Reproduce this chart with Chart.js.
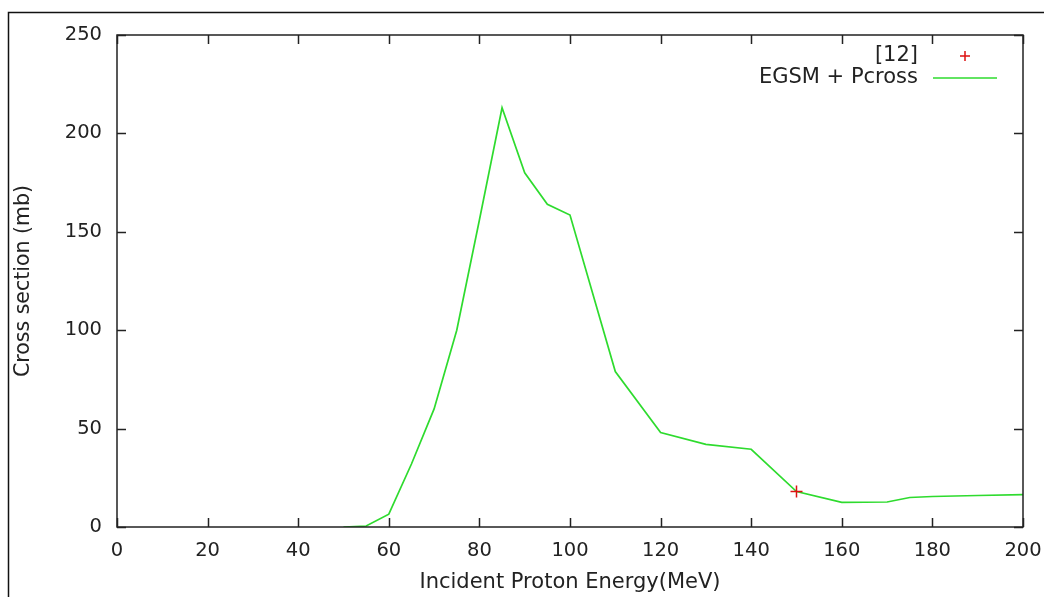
<!DOCTYPE html>
<html>
<head>
<meta charset="utf-8">
<script src="https://cdn.jsdelivr.net/npm/chart.js@4/dist/chart.umd.min.js"></script>
<style>
  html, body { margin: 0; padding: 0; background: #fff; }
  #wrap { width: 1044px; height: 597px; position: relative; }
</style>
</head>
<body>
<div id="wrap"><canvas id="c" width="1044" height="597"></canvas></div>
<script>
// ---- data ----
const energies = [50, 55, 60, 65, 70, 75, 80, 85, 90, 95, 100, 110, 120, 130, 140, 150, 160, 170, 175, 180, 190, 200];
const egsmPcross = [0, 0.5, 6.5, 32, 60, 100, 156, 213, 180, 164, 158.5, 79, 48, 42, 39.5, 18, 12.5, 12.7, 15, 15.5, 16, 16.5];
const expEnergies = [150];
const expValues = [18];
const xTickStep = 20;
const yTickStep = 50;
const seriesLabels = ['[12]', 'EGSM + Pcross'];
const xTitle = 'Incident Proton Energy(MeV)';
const yTitle = 'Cross section (mb)';

const FONT = 'DejaVu Sans';
const FSIZE = 19.5;
const TSIZE = 21;
const TXT = '#222';
const RED = '#dd1111';
const GREEN = '#2edb2e';

const toXY = (xs, ys) => xs.map((x, i) => ({ x: x, y: ys[i] }));

const framePlugin = {
  id: 'frame',
  afterDraw(chart) {
    const ctx = chart.ctx;
    const a = chart.chartArea;
    const xs = chart.scales.x, ys = chart.scales.y;
    ctx.save();
    // outer figure border (left + top only visible)
    ctx.strokeStyle = '#111';
    ctx.lineWidth = 1.5;
    ctx.beginPath();
    ctx.moveTo(8.5, 597);
    ctx.lineTo(8.5, 12.5);
    ctx.lineTo(1044, 12.5);
    ctx.stroke();
    // plot border
    ctx.strokeStyle = '#222';
    ctx.lineWidth = 1.5;
    ctx.strokeRect(a.left, a.top, a.right - a.left, a.bottom - a.top);
    // inward, mirrored ticks
    const TL = 9;
    ctx.beginPath();
    xs.ticks.forEach(t => {
      const px = Math.round(xs.getPixelForValue(t.value)) + 0.5;
      ctx.moveTo(px, a.bottom); ctx.lineTo(px, a.bottom - TL);
      ctx.moveTo(px, a.top); ctx.lineTo(px, a.top + TL);
    });
    ys.ticks.forEach(t => {
      const py = Math.round(ys.getPixelForValue(t.value)) + 0.5;
      ctx.moveTo(a.left, py); ctx.lineTo(a.left + TL, py);
      ctx.moveTo(a.right, py); ctx.lineTo(a.right - TL, py);
    });
    ctx.stroke();

    // gnuplot-style key (text left of sample)
    ctx.font = TSIZE + 'px "' + FONT + '"';
    ctx.textAlign = 'right';
    ctx.textBaseline = 'middle';
    const ds = chart.data.datasets;
    const textRight = 918;
    const sampleL = 933, sampleR = 997;
    const rows = [56, 78];
    ds.forEach((d, i) => {
      const y = rows[i];
      ctx.fillStyle = TXT;
      ctx.fillText(d.label, textRight, y);
      if (d.showLine === false) {
        const cx = 965, r = 5;
        ctx.strokeStyle = d.borderColor;
        ctx.lineWidth = 1.5;
        ctx.beginPath();
        ctx.moveTo(cx - r, y); ctx.lineTo(cx + r, y);
        ctx.moveTo(cx, y - r); ctx.lineTo(cx, y + r);
        ctx.stroke();
      } else {
        ctx.strokeStyle = d.borderColor;
        ctx.lineWidth = d.borderWidth;
        ctx.beginPath();
        ctx.moveTo(sampleL, y); ctx.lineTo(sampleR, y);
        ctx.stroke();
      }
    });
    ctx.restore();
  }
};

new Chart(document.getElementById('c'), {
  type: 'scatter',
  data: {
    datasets: [
      {
        label: seriesLabels[0],
        data: toXY(expEnergies, expValues),
        showLine: false,
        pointStyle: 'cross',
        pointRadius: 6,
        pointBorderWidth: 1.5,
        borderColor: RED,
        backgroundColor: RED,
        order: 0
      },
      {
        label: seriesLabels[1],
        data: toXY(energies, egsmPcross),
        showLine: true,
        borderColor: GREEN,
        backgroundColor: GREEN,
        borderWidth: 1.7,
        pointRadius: 0,
        tension: 0,
        order: 1
      }
    ]
  },
  options: {
    responsive: false,
    animation: false,
    devicePixelRatio: 1,
    layout: { padding: { left: 0, right: 21, top: 35, bottom: 0 } },
    plugins: { legend: { display: false }, tooltip: { enabled: false } },
    scales: {
      x: {
        type: 'linear',
        min: 0, max: 200,
        grid: { display: false, drawTicks: false },
        border: { display: false },
        ticks: { stepSize: xTickStep, padding: 12, color: TXT, font: { family: FONT, size: FSIZE }, maxRotation: 0, autoSkip: false },
        title: { display: true, text: xTitle, color: TXT, font: { family: FONT, size: TSIZE }, padding: { top: 2, bottom: 2 } },
        afterFit(s) { s.height = 70; s.paddingLeft = 0; s.paddingRight = 0; }
      },
      y: {
        type: 'linear',
        min: 0, max: 250,
        grid: { display: false, drawTicks: false },
        border: { display: false },
        ticks: { stepSize: yTickStep, padding: 15, color: TXT, font: { family: FONT, size: FSIZE } },
        title: { display: true, text: yTitle, color: TXT, font: { family: FONT, size: 20.5 }, padding: { top: 11, bottom: 0 } },
        afterFit(s) { s.width = 117; s.paddingTop = 0; s.paddingBottom = 0; }
      }
    }
  },
  plugins: [framePlugin]
});
</script>
</body>
</html>
